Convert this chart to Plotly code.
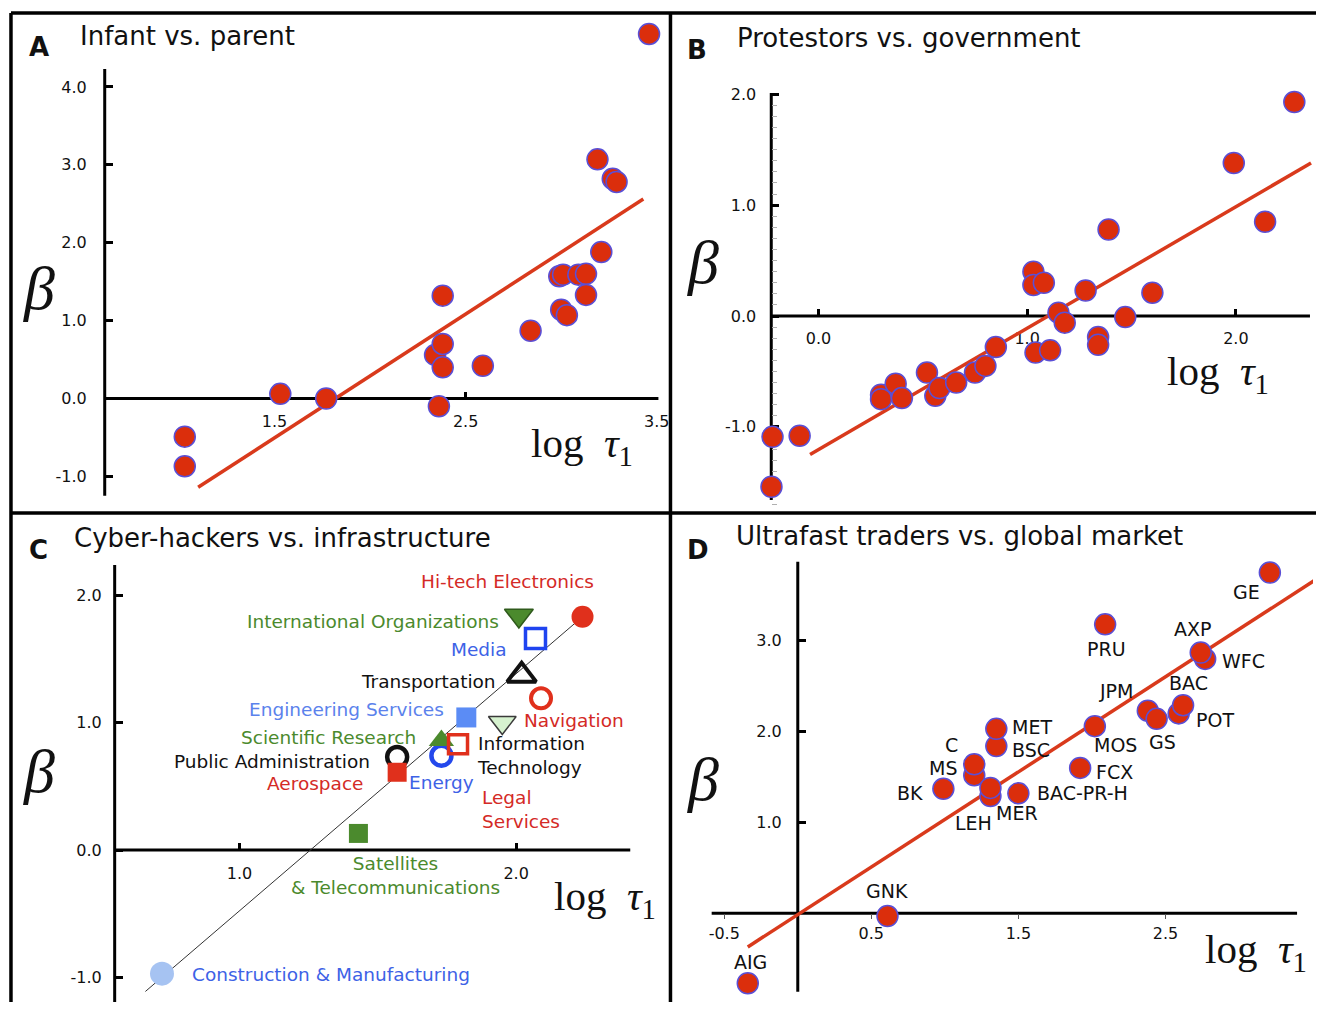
import plotly.graph_objects as go

# The figure sits at the page's top-left corner; it is kept a few pixels inside the
# 1324 x 1010 window so the page never scrolls. Page pixels map to paper via OX/OY.
OX, OY = 0, 0
FIG_W, FIG_H = 1316, 1002
SANS = "DejaVu Sans"
SERIF = "Liberation Serif"

# ---------------- data ----------------
# A: infant vs. parent
A_LOG_TAU = [1.03, 1.03, 1.53, 1.77, 2.36, 2.34, 2.38, 2.38, 2.38, 2.59, 2.84, 3.00, 3.03,
             2.99, 3.01, 3.09, 3.13, 3.13, 3.21, 3.19, 3.27, 3.29, 3.46]
A_BETA = [-0.49, -0.87, 0.06, 0.00, -0.10, 0.56, 0.70, 0.40, 1.32, 0.42, 0.87, 1.14, 1.07,
          1.57, 1.59, 1.59, 1.60, 1.33, 1.88, 3.07, 2.82, 2.78, 4.68]
A_FIT_LOG_TAU = [1.10, 3.43]
A_FIT_BETA = [-1.14, 2.56]
A_X_TICKS = [1.5, 2.5, 3.5]
A_Y_TICKS = [-1.0, 0.0, 1.0, 2.0, 3.0, 4.0]

# B: protestors vs. government
B_LOG_TAU = [-0.22, -0.09, -0.225, 0.30, 0.30, 0.37, 0.40, 0.52, 0.56, 0.58, 0.66, 0.75, 0.80,
             0.85, 1.03, 1.03, 1.08, 1.04, 1.11, 1.15, 1.18, 1.28, 1.34, 1.34, 1.39, 1.47,
             1.60, 1.99, 2.14, 2.28]
B_BETA = [-1.09, -1.08, -1.54, -0.71, -0.75, -0.61, -0.74, -0.51, -0.72, -0.65, -0.60, -0.51,
          -0.45, -0.28, 0.40, 0.28, 0.30, -0.33, -0.31, 0.03, -0.06, 0.23, -0.19, -0.26, 0.78,
          -0.01, 0.21, 1.38, 0.85, 1.93]
B_FIT_LOG_TAU = [-0.04, 2.36]
B_FIT_BETA = [-1.25, 1.38]
B_X_TICKS = [0.0, 1.0, 2.0]
B_Y_TICKS = [-1.0, 0.0, 1.0, 2.0]

# C: cyber-hackers vs. infrastructure (drawing order matters for overlaps)
C_SECTORS = ["Construction & Manufacturing", "Satellites & Telecommunications",
             "Public Administration", "Aerospace", "Energy", "Scientific Research",
             "Legal Services", "Engineering Services", "Information Technology",
             "Navigation", "Transportation", "Media", "International Organizations",
             "Hi-tech Electronics"]
C_LOG_TAU = [0.72, 1.43, 1.57, 1.57, 1.73, 1.73, 1.79, 1.82, 1.95, 2.09, 2.02, 2.07, 2.01, 2.24]
C_BETA = [-0.97, 0.13, 0.73, 0.61, 0.74, 0.86, 0.83, 1.04, 1.00, 1.19, 1.37, 1.66, 1.84, 1.83]
C_GUIDE_LOG_TAU = [0.66, 2.24]
C_GUIDE_BETA = [-1.11, 1.83]
C_X_TICKS = [1.0, 2.0]
C_Y_TICKS = [-1.0, 0.0, 1.0, 2.0]

# D: ultrafast traders vs. global market
D_TICKERS = ["AIG", "GNK", "BK", "MS", "C", "LEH", "MER", "BSC", "MET", "BAC-PR-H", "FCX",
             "MOS", "JPM", "GS", "POT", "BAC", "PRU", "WFC", "AXP", "GE"]
D_LOG_TAU = [-0.34, 0.61, 0.99, 1.20, 1.20, 1.31, 1.31, 1.35, 1.35, 1.50, 1.92,
             2.02, 2.38, 2.44, 2.59, 2.62, 2.09, 2.77, 2.74, 3.21]
D_BETA = [-0.77, -0.03, 1.37, 1.52, 1.64, 1.29, 1.38, 1.84, 2.03, 1.32, 1.60,
          2.06, 2.23, 2.14, 2.20, 2.29, 3.18, 2.80, 2.87, 3.75]
D_FIT_LOG_TAU = [-0.34, 3.52]
D_FIT_BETA = [-0.37, 3.67]
D_X_TICKS = [-0.5, 0.5, 1.5, 2.5]
D_Y_TICKS = [1.0, 2.0, 3.0]

# ---------------- styles ----------------
DOT_RED = "#db2e0c"
DOT_EDGE = "#5a4fd6"
FIT_RED = "#d93a1c"
RED_TXT = "#d42a26"
GREEN_TXT = "#4b8a2d"
BLUE_TXT = "#3d62e6"
LBLUE_TXT = "#5b82ec"

# marker look per sector: symbol, size, colour, outline colour, outline width
SECTOR_STYLE = {
    "Hi-tech Electronics": ("circle", 22, "#e0301c", "#e0301c", 0),
    "International Organizations": ("triangle-down", 25, "#4b8a2d", "#2f5a1c", 1.5),
    "Media": ("square-open", 20, "#1f44f0", "#1f44f0", 3.5),
    "Transportation": ("triangle-up-open", 25, "#111111", "#111111", 4),
    "Navigation": ("circle-open", 20, "#e0301c", "#e0301c", 4),
    "Engineering Services": ("square", 20, "#5b8cf5", "#5b8cf5", 0),
    "Information Technology": ("triangle-down", 24, "#d6f2cf", "#3a3a3a", 1.5),
    "Scientific Research": ("triangle-up", 22, "#4b8a2d", "#4b8a2d", 0),
    "Legal Services": ("square-open", 19, "#e0301c", "#e0301c", 3.5),
    "Energy": ("circle-open", 20, "#2448ec", "#2448ec", 4.5),
    "Public Administration": ("circle-open", 20, "#111111", "#111111", 4.5),
    "Aerospace": ("square", 19, "#e0301c", "#e0301c", 0),
    "Satellites & Telecommunications": ("square", 19, "#4b8a2d", "#4b8a2d", 0),
    "Construction & Manufacturing": ("circle", 24, "#a6c3f2", "#a6c3f2", 0),
}

# sector label: text, colour, x offset, y offset (px), anchor
SECTOR_LABEL = {
    "Hi-tech Electronics": ("Hi-tech Electronics", RED_TXT, -75, 35, "center"),
    "International Organizations": ("International Organizations", GREEN_TXT, -18, -6, "right"),
    "Media": ("Media", BLUE_TXT, -26, -11, "right"),
    "Transportation": ("Transportation", "#111111", -24, -6, "right"),
    "Navigation": ("Navigation", RED_TXT, -19, -22, "left"),
    "Engineering Services": ("Engineering Services", LBLUE_TXT, -20, 8, "right"),
    "Information Technology": ("Information<br>Technology", "#111111", -27, -33, "left"),
    "Scientific Research": ("Scientific Research", GREEN_TXT, -23, 3, "right"),
    "Legal Services": ("Legal<br>Services", RED_TXT, 22, -65, "left"),
    "Energy": ("Energy", BLUE_TXT, 0, -27, "center"),
    "Public Administration": ("Public Administration", "#111111", -25, -5, "right"),
    "Aerospace": ("Aerospace", RED_TXT, -31, -11, "right"),
    "Satellites & Telecommunications": ("Satellites<br>& Telecommunications", GREEN_TXT, 37, -42, "center"),
    "Construction & Manufacturing": ("Construction & Manufacturing", BLUE_TXT, 28, -1, "left"),
}

# ticker label offsets (px) and anchor
TICKER_LABEL = {
    "AIG": (3, 21, "center"), "GNK": (0, 25, "center"), "BK": (-18, -4, "right"),
    "MS": (-15, 7, "right"), "C": (-14, 19, "right"), "LEH": (-17, -27, "center"),
    "MER": (4, -25, "left"), "MET": (14, 2, "left"), "BSC": (14, -4, "left"),
    "BAC-PR-H": (17, 0, "left"), "FCX": (14, -4, "left"), "MOS": (21, -19, "center"),
    "JPM": (-32, 20, "center"), "GS": (6, -23, "center"), "BAC": (5, 22, "center"),
    "POT": (15, -7, "left"), "PRU": (1, -25, "center"), "AXP": (-8, 24, "center"),
    "WFC": (15, -2, "left"), "GE": (-23, -19, "center"),
}

# panel geometry (page px): a reference value and its pixel + px per unit for each
# axis, the plotting box, the drawn extent of each axis line and where they cross
PANELS = {
    "A": dict(xa="x", ya="y", xs=(2.5, 466.7, 191.5), ys=(0.0, 398.5, 77.9),
              box=(100, 22, 668, 502), xline=(0.611, 3.509), yline=(-1.247, 4.230),
              ycross=0.611, xstand=11, ystand=18),
    "B": dict(xa="x2", ya="y2", xs=(1.0, 1029.5, 209.2), ys=(0.0, 316.0, 110.87),
              box=(760, 85, 1316, 506), xline=(-0.226, 2.355), yline=(-1.660, 2.011),
              ycross=-0.226, xstand=11, ystand=15),
    "C": dict(xa="x3", ya="y3", xs=(1.0, 240.0, 277.3), ys=(0.0, 850.0, 127.45),
              box=(110, 558, 640, 1002), xline=(0.549, 2.4125), yline=(-1.232, 2.236),
              ycross=0.549, xstand=12, ystand=13),
    "D": dict(xa="x4", ya="y4", xs=(0.5, 873.3, 147.4), ys=(0.0, 913.3, 90.86),
              box=(700, 555, 1316, 1000), xline=(-0.5855, 3.395), yline=(-0.863, 3.870),
              ycross=0.0, xstand=0, ystand=16),
}


def clamp01(v):
    return min(max(v, 0.0), 1.0)


def paper_x(px):
    return (px - OX) / FIG_W


def paper_y(py):
    return 1 - (py - OY) / FIG_H


def val_to_px(scale, v, flip=False):
    ref_v, ref_px, ppu = scale
    return ref_px - (v - ref_v) * ppu if flip else ref_px + (v - ref_v) * ppu


def px_to_val(scale, px, flip=False):
    ref_v, ref_px, ppu = scale
    return ref_v - (px - ref_px) / ppu if flip else ref_v + (px - ref_px) / ppu


def fmt(vals):
    return [f"{v:.1f}" for v in vals]


fig = go.Figure()

# ---------------- traces ----------------
dot = dict(size=21, color=DOT_RED, opacity=1, line=dict(color=DOT_EDGE, width=1.5))
fit = dict(color=FIT_RED, width=3.5)

fig.add_trace(go.Scatter(x=A_FIT_LOG_TAU, y=A_FIT_BETA, mode="lines", line=fit,
                         xaxis="x", yaxis="y"))
fig.add_trace(go.Scatter(x=A_LOG_TAU, y=A_BETA, mode="markers", marker=dot,
                         cliponaxis=False, xaxis="x", yaxis="y"))

fig.add_trace(go.Scatter(x=B_FIT_LOG_TAU, y=B_FIT_BETA, mode="lines", line=fit,
                         xaxis="x2", yaxis="y2"))
fig.add_trace(go.Scatter(x=B_LOG_TAU, y=B_BETA, mode="markers", marker=dot,
                         cliponaxis=False, xaxis="x2", yaxis="y2"))

fig.add_trace(go.Scatter(x=C_GUIDE_LOG_TAU, y=C_GUIDE_BETA, mode="lines",
                         line=dict(color="#333333", width=1), xaxis="x3", yaxis="y3"))
fig.add_trace(go.Scatter(
    x=C_LOG_TAU, y=C_BETA, mode="markers", cliponaxis=False, xaxis="x3", yaxis="y3",
    marker=dict(symbol=[SECTOR_STYLE[s][0] for s in C_SECTORS],
                size=[SECTOR_STYLE[s][1] for s in C_SECTORS],
                color=[SECTOR_STYLE[s][2] for s in C_SECTORS],
                opacity=1,
                line=dict(color=[SECTOR_STYLE[s][3] for s in C_SECTORS],
                          width=[SECTOR_STYLE[s][4] for s in C_SECTORS]))))

fig.add_trace(go.Scatter(x=D_FIT_LOG_TAU, y=D_FIT_BETA, mode="lines", line=fit,
                         xaxis="x4", yaxis="y4"))
fig.add_trace(go.Scatter(x=D_LOG_TAU, y=D_BETA, mode="markers", marker=dot,
                         cliponaxis=False, xaxis="x4", yaxis="y4"))

# ---------------- axes ----------------
tick_font = dict(family=SANS, size=16, color="#111111")
layout_axes = {}
shapes = []
AXIS_LINE = dict(color="black", width=3)
for name, p in PANELS.items():
    bx0, by0, bx1, by1 = p["box"]
    xr = [px_to_val(p["xs"], bx0), px_to_val(p["xs"], bx1)]
    yr = [px_to_val(p["ys"], by1, flip=True), px_to_val(p["ys"], by0, flip=True)]
    x_axis_py = val_to_px(p["ys"], 0.0, flip=True)
    y_axis_px = val_to_px(p["xs"], p["ycross"])
    common = dict(showline=False, showgrid=False, zeroline=False, layer="below traces",
                  tickfont=tick_font, tickcolor="black", tickwidth=3, ticklen=7,
                  ticks="inside", tickmode="array", fixedrange=True, anchor="free")
    layout_axes["xaxis" + p["xa"][1:]] = dict(
        common, domain=[clamp01(paper_x(bx0)), clamp01(paper_x(bx1))], range=xr,
        position=clamp01(paper_y(x_axis_py)), ticklabelstandoff=p["xstand"])
    layout_axes["yaxis" + p["ya"][1:]] = dict(
        common, domain=[clamp01(paper_y(by1)), clamp01(paper_y(by0))], range=yr,
        position=clamp01(paper_x(y_axis_px)), ticklabelstandoff=p["ystand"])
    # the two axis lines, spanning only their drawn extent
    shapes.append(dict(type="line", xref="paper", yref="paper", layer="below",
                       x0=paper_x(val_to_px(p["xs"], p["xline"][0])), y0=paper_y(x_axis_py),
                       x1=paper_x(val_to_px(p["xs"], p["xline"][1])), y1=paper_y(x_axis_py),
                       line=AXIS_LINE))
    shapes.append(dict(type="line", xref="paper", yref="paper", layer="below",
                       x0=paper_x(y_axis_px), y0=paper_y(val_to_px(p["ys"], p["yline"][0], True)),
                       x1=paper_x(y_axis_px), y1=paper_y(val_to_px(p["ys"], p["yline"][1], True)),
                       line=AXIS_LINE))

layout_axes["xaxis"].update(tickvals=A_X_TICKS, ticktext=fmt(A_X_TICKS), ticks="",
                            minor=dict(tickmode="array", tickvals=[2.5], ticks="inside",
                                       ticklen=7, tickwidth=3, tickcolor="black"))
layout_axes["yaxis"].update(tickvals=A_Y_TICKS, ticktext=fmt(A_Y_TICKS))
layout_axes["xaxis2"].update(tickvals=B_X_TICKS, ticktext=fmt(B_X_TICKS))
layout_axes["yaxis2"].update(tickvals=B_Y_TICKS, ticktext=fmt(B_Y_TICKS),
                             minor=dict(tickmode="linear", tick0=0, dtick=0.1,
                                        ticks="inside", ticklen=5, tickwidth=1,
                                        tickcolor="#b0b0b0", showgrid=False))
layout_axes["xaxis3"].update(tickvals=C_X_TICKS, ticktext=fmt(C_X_TICKS))
layout_axes["yaxis3"].update(tickvals=C_Y_TICKS, ticktext=fmt(C_Y_TICKS))
layout_axes["xaxis4"].update(tickvals=D_X_TICKS, ticktext=fmt(D_X_TICKS), ticks="outside",
                             ticklen=5, tickwidth=1, tickcolor="#555555")
layout_axes["yaxis4"].update(tickvals=D_Y_TICKS, ticktext=fmt(D_Y_TICKS))

# ---------------- text ----------------
ann = []


def page_text(text, px, py, size, family=SANS, xanchor="left", color="#111111"):
    ann.append(dict(text=text, x=paper_x(px), y=paper_y(py), xref="paper", yref="paper",
                    xanchor=xanchor, yanchor="middle", showarrow=False,
                    font=dict(family=family, size=size, color=color)))


TITLES = [("A", "Infant vs. parent", 27, 47, 78, 36),
          ("B", "Protestors vs. government", 687, 50, 737, 38),
          ("C", "Cyber-hackers vs. infrastructure", 27, 550, 72, 538),
          ("D", "Ultrafast traders vs. global market", 687, 550, 736, 536)]
for letter, title, lx, ly, tx, ty in TITLES:
    page_text(f"<b>{letter}</b>", lx, ly, 26)
    page_text(title, tx, ty, 26)

for bx, by in [(39, 288), (705, 262), (39, 771), (705, 779)]:
    page_text("<i>β</i>", bx, by, 62, family=SERIF, xanchor="center")

for lx, ly in [(530, 446), (1168, 374), (553, 899), (1206, 952)]:
    page_text("log\u00a0\u00a0<i>τ</i><sub>1</sub>", lx, ly, 41, family=SERIF)

for s, xv, yv in zip(C_SECTORS, C_LOG_TAU, C_BETA):
    text, col, ox, oy, anc = SECTOR_LABEL[s]
    ann.append(dict(text=text, x=xv, y=yv, xref="x3", yref="y3", xshift=ox, yshift=oy,
                    xanchor=anc, yanchor="middle", align=anc if anc != "center" else "center",
                    showarrow=False, font=dict(family=SANS, size=18.5, color=col)))

for t, xv, yv in zip(D_TICKERS, D_LOG_TAU, D_BETA):
    ox, oy, anc = TICKER_LABEL[t]
    ann.append(dict(text=t, x=xv, y=yv, xref="x4", yref="y4", xshift=ox, yshift=oy,
                    xanchor=anc, yanchor="middle", showarrow=False,
                    font=dict(family=SANS, size=19, color="#111111")))

# panel frame (page px)
FRAME = [(11, 13, 1324, 13), (11, 13, 11, 1010), (672, 13, 672, 1010), (11, 513, 1324, 513)]
for a, b, c, d in FRAME:
    shapes.append(dict(type="line", xref="paper", yref="paper",
                       x0=paper_x(a), y0=paper_y(b), x1=paper_x(c), y1=paper_y(d),
                       line=dict(color="black", width=3.5)))

fig.update_layout(width=FIG_W, height=FIG_H, margin=dict(l=0, r=0, t=0, b=0, pad=0),
                  paper_bgcolor="white", plot_bgcolor="rgba(0,0,0,0)", showlegend=False,
                  annotations=ann, shapes=shapes, **layout_axes)

fig.write_html("out.html", config={"displayModeBar": False})
